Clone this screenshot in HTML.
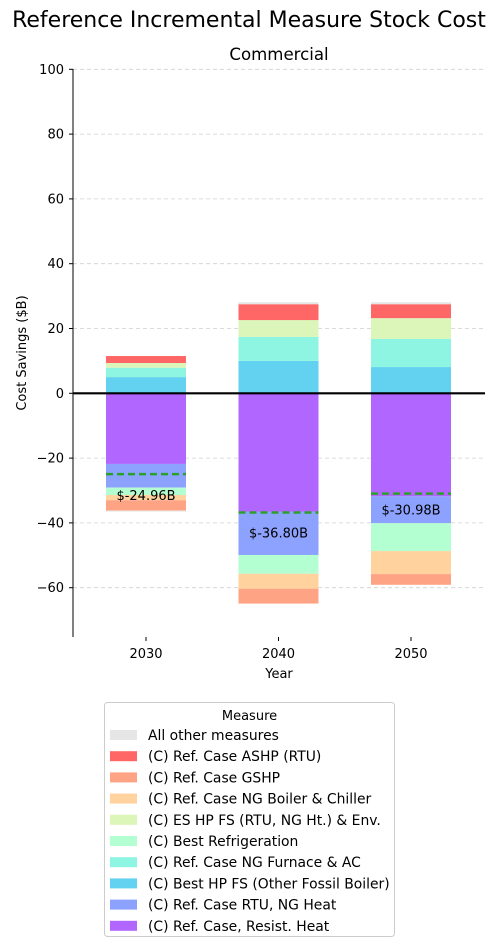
<!DOCTYPE html>
<html><head><meta charset="utf-8"><style>
body{margin:0;background:#fff;font-family:"Liberation Sans","DejaVu Sans",sans-serif;}
svg text{font-family:"DejaVu Sans","Liberation Sans",sans-serif;}
</style></head><body>
<svg id="c" width="499" height="947" xmlns="http://www.w3.org/2000/svg">
<text x="249" y="27" font-size="22" text-anchor="middle">Reference Incremental Measure Stock Cost</text>
<text x="279" y="60" font-size="16.6" text-anchor="middle">Commercial</text>
<g id="grid"></g><g id="bars"></g><g id="axes"></g>
</svg>
<script>
const years=["2030","2040","2050"];
const measures=["All other measures","(C) Ref. Case ASHP (RTU)","(C) Ref. Case GSHP","(C) Ref. Case NG Boiler & Chiller","(C) ES HP FS (RTU, NG Ht.) & Env.","(C) Best Refrigeration","(C) Ref. Case NG Furnace & AC","(C) Best HP FS (Other Fossil Boiler)","(C) Ref. Case RTU, NG Heat","(C) Ref. Case, Resist. Heat"];
const colors=["#e6e6e6","#ff6666","#ffa385","#ffd29e","#dcf5b8","#b3ffd1","#8ef5e2","#63d2f0","#8da2ff","#b066ff"];
const vAll=[0,0.6,0.6], vAllNeg=[-0.3,0,0];
const vASHP=[2.15,4.9,4.3];
const vGSHP=[-3.2,-4.6,-3.3];
const vBoiler=[-1.6,-4.6,-7.1];
const vESHP=[1.45,5.2,6.4];
const vRefrig=[-2.3,-5.8,-8.6];
const vFurnace=[2.9,7.4,8.7];
const vBestHP=[5.0,10.0,8.1];
const vRTU=[-7.3,-13.3,-8.3];
const vResist=[-21.8,-36.6,-31.8];
const netVals=[-24.96,-36.80,-30.98];
const yTicks=[-60,-40,-20,0,20,40,60,80,100];
const ns="http://www.w3.org/2000/svg";
const X0=73,X1=485,yTop=69,py=3.24;
const y=v=>393.3-v*py;
const x=i=>146+i*132.5;
const bw=80;
function mk(t,a,p){const e=document.createElementNS(ns,t);for(const k in a)e.setAttribute(k,a[k]);(p||document.getElementById('c')).appendChild(e);return e;}
const grid=document.getElementById('grid'),bars=document.getElementById('bars'),axes=document.getElementById('axes');
yTicks.forEach(t=>{
 const g=mk('line',{x1:X0,x2:X1,y1:y(t),y2:y(t),stroke:'#d0d0d0','stroke-dasharray':'4,3','stroke-width':0.8},grid);
 
 
 const tk=mk('line',{x1:X0-4,x2:X0,y1:y(t),y2:y(t),stroke:'#000'},axes);
 
 
 const l=mk('text',{x:X0-9,y:y(t)+4.5,'font-size':13,'text-anchor':'end'},axes);
 l.textContent=(t<0?'\u2212'+(-t):t);
 
 
});
const posStack=[[vBestHP,7],[vFurnace,6],[vESHP,4],[vASHP,1],[vAll,0]];
const negStack=[[vResist,9],[vRTU,8],[vRefrig,5],[vBoiler,3],[vGSHP,2],[vAllNeg,0]];
years.forEach((yr,i)=>{
 let p=0,n=0;
 posStack.forEach(([arr,c])=>{const v=arr[i];if(v<=0)return;
  const r=mk('rect',{x:x(i)-bw/2,y:y(p+v),width:bw,height:v*py,fill:colors[c]},bars);
  
  
  p+=v;});
 negStack.forEach(([arr,c])=>{const v=arr[i];if(v>=0)return;
  const r=mk('rect',{x:x(i)-bw/2,y:y(n),width:bw,height:-v*py,fill:colors[c]},bars);
  
  
  n+=v;});
 const nl=mk('line',{x1:x(i)-bw/2,x2:x(i)+bw/2,y1:y(netVals[i]),y2:y(netVals[i]),stroke:'#2ca02c','stroke-width':2.5,'stroke-dasharray':'7,4'},bars);
 
 
 const lt=mk('text',{x:x(i),y:y(netVals[i])+ (i==0?26:i==1?25:21),'font-size':13,'text-anchor':'middle'},bars);
 lt.textContent='$'+netVals[i].toFixed(2)+'B';
 
 
 const tk=mk('line',{x1:x(i),x2:x(i),y1:637,y2:641,stroke:'#000'},axes);
 
 
 const xl=mk('text',{x:x(i),y:658,'font-size':13,'text-anchor':'middle'},axes);
 xl.textContent=yr;
 
 
});
const zl=mk('line',{x1:X0,x2:X1,y1:y(0),y2:y(0),stroke:'#000','stroke-width':2.2},axes);


const sp=mk('line',{x1:X0,x2:X0,y1:yTop,y2:637,stroke:'#000','stroke-width':1},axes);


const xt=mk('text',{x:279,y:678,'font-size':13,'text-anchor':'middle'},axes);
xt.textContent='Year';


const yt=mk('text',{x:26,y:353,'font-size':13,'text-anchor':'middle',transform:'rotate(-90 26 353)'},axes);
yt.textContent='Cost Savings ($B)';


const lg=mk('g',{},axes);


mk('rect',{x:104.5,y:702.5,width:290,height:234,rx:3,fill:'#fff',stroke:'#ccc'},lg);
const lt=mk('text',{x:249.5,y:720,'font-size':13,'text-anchor':'middle'},lg);
lt.textContent='Measure';


measures.forEach((m,k)=>{
 const yy=735+k*21.2;
 const s=mk('rect',{x:110,y:yy-5,width:27,height:10,fill:colors[k]},lg);
 
 
 const t=mk('text',{x:148,y:yy+5,'font-size':13.9},lg);
 t.textContent=m;
 
 
});
</script>
</body></html>
